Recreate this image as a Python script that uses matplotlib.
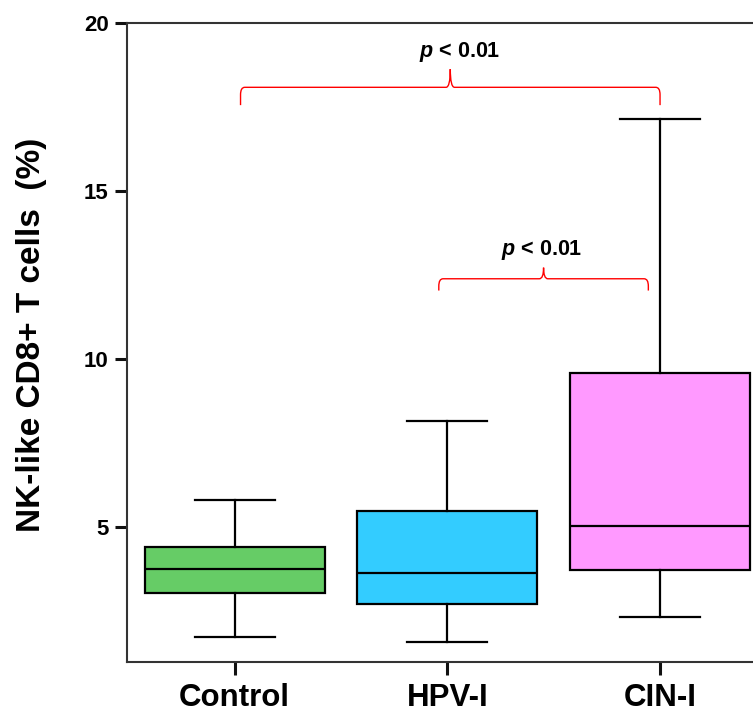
import matplotlib
matplotlib.use("Agg")
import matplotlib.pyplot as plt
from matplotlib.path import Path
from matplotlib.patches import PathPatch

plt.rcParams['font.family'] = ['Liberation Sans', 'DejaVu Sans']
plt.rcParams['mathtext.fontset'] = 'custom'
plt.rcParams['mathtext.it'] = 'Liberation Sans:italic:bold'
plt.rcParams['mathtext.rm'] = 'Liberation Sans:bold'

categories = ["Control", "HPV-I", "CIN-I"]
whislo = [1.74, 1.59, 2.33]
q1 = [3.05, 2.72, 3.72]
med = [3.77, 3.64, 5.03]
q3 = [4.43, 5.49, 9.60]
whishi = [5.82, 8.15, 17.13]
colors = ["#66CC66", "#33CCFF", "#FF99FF"]
yticks = [5, 10, 15, 20]
pvals = ["p < 0.01", "p < 0.01"]

fig = plt.figure(figsize=(7.53, 7.14), dpi=100)
ax = fig.add_axes([0.1683, 0.0728, 0.8317 + 0.02, 0.8954])

stats = []
for i, c in enumerate(categories):
    stats.append(dict(label=c, whislo=whislo[i], q1=q1[i], med=med[i],
                      q3=q3[i], whishi=whishi[i], fliers=[]))

bp = ax.bxp(stats, positions=range(len(categories)), widths=0.846,
            capwidths=0.376, patch_artist=True, showfliers=False,
            boxprops=dict(linewidth=1.6, edgecolor='black'),
            medianprops=dict(color='black', linewidth=1.6),
            whiskerprops=dict(color='black', linewidth=1.6),
            capprops=dict(color='black', linewidth=1.6))
for patch, col in zip(bp['boxes'], colors):
    patch.set_facecolor(col)

ax.set_xlim(-0.507, 2.437 + 0.02 / 0.8317 * 2.944)
ax.set_ylim(1, 20)
ax.set_yticks(yticks)
ax.set_yticklabels([str(t) for t in yticks], fontsize=16, fontweight='bold')
ax.set_xticks(range(len(categories)))
ax.set_xticklabels(categories, fontsize=22.5, fontweight='bold')
ax.tick_params(axis='both', direction='out', length=9, width=2.2, color='#111111')
ax.tick_params(axis='y', pad=4)
ax.tick_params(axis='x', pad=6)
for s in ['left', 'bottom', 'top']:
    ax.spines[s].set_linewidth(1.5)
    ax.spines[s].set_color('#333333')
ax.spines['right'].set_visible(False)

ax.set_ylabel("NK-like CD8+ T cells  (%)", fontsize=24, fontweight='bold')
ax.yaxis.set_label_coords(-0.125, 0.512)


def brace(x0, x1, y, yb, ytop, rx=0.02, ry=0.22):
    xm = (x0 + x1) / 2
    verts = [(x0, yb), (x0, y - ry), (x0, y), (x0 + rx, y),
             (xm - rx, y), (xm, y), (xm, ytop),
             (xm, ytop), (xm, y), (xm + rx, y),
             (x1 - rx, y), (x1, y), (x1, y - ry), (x1, yb)]
    codes = [Path.MOVETO, Path.LINETO, Path.CURVE3, Path.CURVE3,
             Path.LINETO, Path.CURVE3, Path.CURVE3,
             Path.MOVETO, Path.CURVE3, Path.CURVE3,
             Path.LINETO, Path.CURVE3, Path.CURVE3, Path.LINETO]
    ax.add_patch(PathPatch(Path(verts, codes), fill=False, edgecolor='red',
                           linewidth=1.0, clip_on=False))

brace(0.028, 2.0, 18.08, 17.55, 18.62)
brace(0.96, 1.945, 12.39, 12.04, 12.72)

ax.text(1.06, 19.12, r"$p$ < 0.01", ha='center', va='center', fontsize=15.5, fontweight='bold')
ax.text(1.443, 13.25, r"$p$ < 0.01", ha='center', va='center', fontsize=15.5, fontweight='bold')

fig.savefig("out.png", dpi=100)
